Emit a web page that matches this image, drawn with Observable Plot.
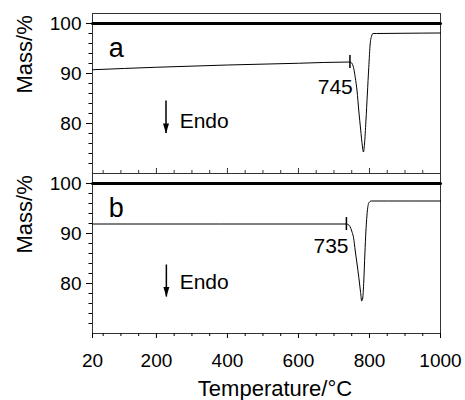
<!DOCTYPE html>
<html>
<head>
<meta charset="utf-8">
<script src="https://cdn.jsdelivr.net/npm/d3@7"></script>
<script src="https://cdn.jsdelivr.net/npm/@observablehq/plot@0.6"></script>
<style>
  body { margin: 0; background: white; }
  #chart { position: relative; width: 465px; height: 400px; font-family: "Liberation Sans", Arial, sans-serif; }
  #chart > svg { position: absolute; left: 0; }
</style>
</head>
<body>
<div id="chart"></div>
<script>
// ---- data ----
const tempA = [20, 200, 400, 600, 745, 750, 755, 760, 765, 770, 775, 780, 783, 786, 790, 794, 798, 802, 806, 810, 820, 900, 1000];
const dtaA  = [90.75, 91.25, 91.7, 92.05, 92.3, 92.1, 91.2, 89.2, 86.5, 82.5, 78.9, 75.5, 74.3, 75.9, 80.5, 85.9, 91.2, 95.9, 97.5, 98.0, 98.0, 98.05, 98.1];
const tempB = [20, 735, 740, 745, 750, 755, 760, 765, 770, 775, 778, 781, 784, 787, 790, 794, 798, 805, 850, 1000];
const dtaB  = [91.9, 91.9, 91.8, 91.4, 90.5, 89.2, 86.5, 83.9, 81.2, 78.2, 76.5, 77.1, 80.5, 85.9, 90.5, 94.5, 96.1, 96.5, 96.5, 96.5];
const massT = [20, 1000];
const massA = [100, 100];
const massB = [100, 100];

const panelNames = ["a", "b"];
const panelLabelT = 66, panelLabelY = 93.3;
const onsetT = [745, 735];
const onsetY = [92.3, 91.9];
const onsetLabelT = [753, 741];
const onsetLabelY = [85.9, 86.1];
const endoArrowT = [227, 228];
const endoArrowTop = [84.5, 83.7];
const endoArrowTip = [78, 77.3];
const endoTextT = [265.5, 265.5];
const endoTextY = [79.2, 78.9];

const xDomain = [20, 1000];
const yDomain = [70, 102];
const xMajor = [20, 200, 400, 600, 800, 1000];
const xMinor = d3.range(50, 1000, 50).filter(d => d % 200 !== 0);
const yMajor = [80, 90, 100];
const yMinor = d3.range(72, 102, 2).filter(d => d % 10 !== 0);

const FONT = '"Liberation Sans", Arial, sans-serif';

const headSymbol = {
  draw(context) {
    context.moveTo(0, 0);
    context.lineTo(-3, -10);
    context.lineTo(3, -10);
    context.closePath();
  }
};

function panel(i, temps, dta, mass, opts) {
  const curve = temps.map((t, k) => ({t, v: dta[k]}));
  const massLine = massT.map((t, k) => ({t, v: mass[k]}));
  const marks = [
    Plot.frame({stroke: "#333", strokeWidth: 1}),
    Plot.axisY({ticks: yMajor, tickSize: 6, tickPadding: 5, fontSize: 19, tickFormat: d3.format("d"), label: null}),
    Plot.axisY({ticks: yMinor, tickSize: 3.5, tickFormat: () => "", label: null}),
    Plot.text(["Mass/%"], {frameAnchor: "left", dx: -67.6, rotate: -90, fontSize: 22, lineAnchor: "middle", fill: "black"}),
    Plot.line(massLine, {x: "t", y: "v", stroke: "black", strokeWidth: 3}),
    Plot.line(curve, {x: "t", y: "v", stroke: "black", strokeWidth: 1, curve: "monotone-x"}),
    Plot.ruleX([0], {x: () => onsetT[i], y1: () => onsetY[i] + 1.3, y2: () => onsetY[i] - 1.3, stroke: "black", strokeWidth: 1.5}),
    Plot.text([panelNames[i]], {x: () => panelLabelT, y: () => panelLabelY, textAnchor: "start", lineAnchor: "bottom", fontSize: 27, fill: "black"}),
    Plot.text([String(onsetT[i])], {x: () => onsetLabelT[i], y: () => onsetLabelY[i], textAnchor: "end", lineAnchor: "bottom", fontSize: 21, fill: "black"}),
    Plot.ruleX([0], {x: () => endoArrowT[i], y1: () => endoArrowTop[i], y2: () => endoArrowTip[i], stroke: "black", strokeWidth: 1.5}),
    Plot.dot([0], {x: () => endoArrowT[i], y: () => endoArrowTip[i], symbol: headSymbol, fill: "black", stroke: "none"}),
    Plot.text(["Endo"], {x: () => endoTextT[i], y: () => endoTextY[i], textAnchor: "start", lineAnchor: "bottom", fontSize: 21, fill: "black"})
  ];
  return Plot.plot({
    width: 465,
    height: opts.height,
    marginTop: 13,
    marginBottom: opts.marginBottom,
    marginLeft: 92,
    marginRight: 25,
    x: {domain: xDomain, axis: null},
    y: {domain: yDomain, axis: null},
    style: {background: "transparent", overflow: "visible", fontFamily: FONT, color: "black"},
    marks: [...marks, ...opts.extra]
  });
}

const topPanel = panel(0, tempA, dtaA, massA, {
  height: 174, marginBottom: 1,
  extra: [
    Plot.ruleX(xMajor.slice(1, -1), {x: d => d, insetTop: 155, stroke: "#333", strokeWidth: 1}),
    Plot.ruleX(xMinor, {x: d => d, insetTop: 157, stroke: "#333", strokeWidth: 1})
  ]
});
topPanel.style.top = "0px";

const bottomPanel = panel(1, tempB, dtaB, massB, {
  height: 240, marginBottom: 67,
  extra: [
    Plot.axisX({ticks: xMajor, tickSize: 5, tickPadding: 15, fontSize: 19, tickFormat: d3.format("d"), label: null}),
    Plot.axisX({ticks: xMinor, tickSize: 3, tickFormat: () => "", label: null}),
    Plot.text(["Temperature/°C"], {frameAnchor: "bottom", dy: 55.5, dx: 8.5, fontSize: 22, lineAnchor: "middle", fill: "black"})
  ]
});
bottomPanel.style.top = "160px";

const chart = document.getElementById("chart");
chart.appendChild(topPanel);
chart.appendChild(bottomPanel);
</script>
</body>
</html>
